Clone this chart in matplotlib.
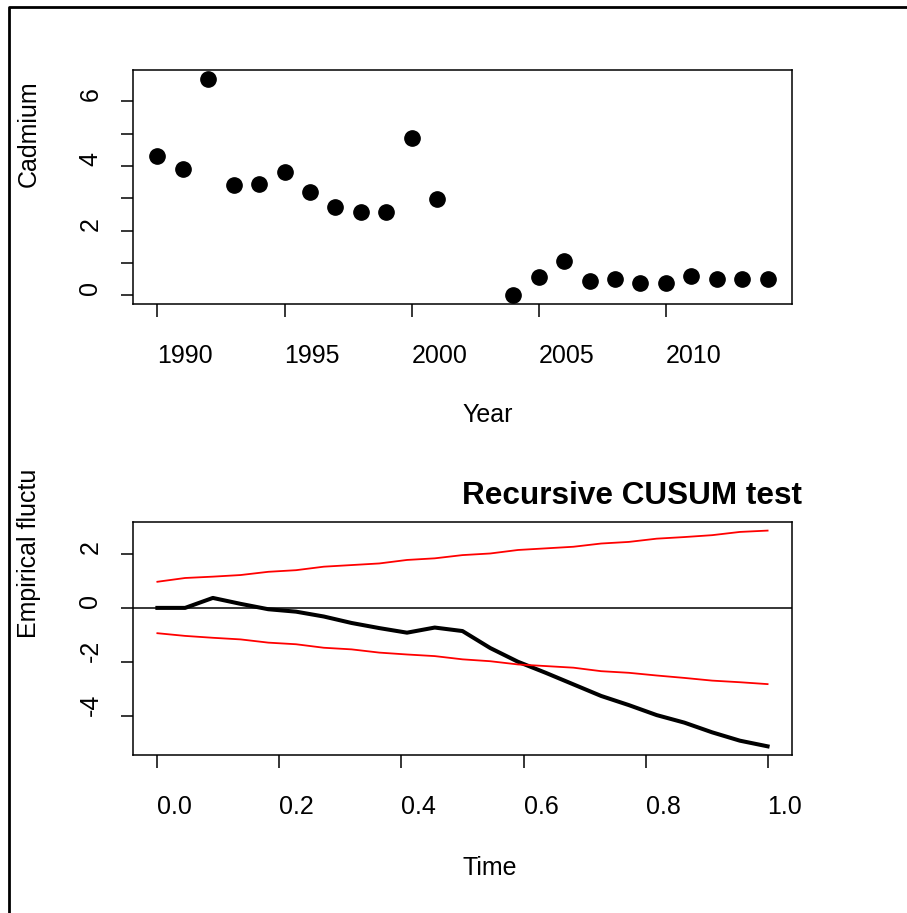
import numpy as np
import matplotlib
matplotlib.use("Agg")
import matplotlib.pyplot as plt
from matplotlib.lines import Line2D

plt.rcParams['font.family'] = ['Liberation Sans', 'DejaVu Sans']

# Cadmium series (2002 and 2003 missing)
years = [1990, 1991, 1992, 1993, 1994, 1995, 1996, 1997, 1998, 1999, 2000, 2001,
         2004, 2005, 2006, 2007, 2008, 2009, 2010, 2011, 2012, 2013, 2014]
cadmium = [4.31, 3.90, 6.70, 3.40, 3.44, 3.81, 3.19, 2.73, 2.57, 2.57, 4.87, 2.98,
           0.00, 0.56, 1.06, 0.44, 0.51, 0.38, 0.39, 0.60, 0.51, 0.51, 0.51]

# Recursive CUSUM process and its boundaries
process = [0.00, 0.00, 0.37, 0.15, -0.05, -0.14, -0.32, -0.56, -0.75, -0.92, -0.73, -0.86,
           -1.49, -2.00, -2.41, -2.84, -3.27, -3.61, -3.98, -4.26, -4.62, -4.93, -5.14]
upper = [0.97, 1.11, 1.16, 1.22, 1.34, 1.40, 1.53, 1.59, 1.65, 1.78, 1.84, 1.96,
         2.02, 2.15, 2.21, 2.27, 2.39, 2.45, 2.57, 2.63, 2.70, 2.82, 2.87]
lower = [-0.94, -1.04, -1.11, -1.17, -1.29, -1.35, -1.48, -1.54, -1.66, -1.73, -1.79, -1.91,
         -1.98, -2.10, -2.16, -2.22, -2.35, -2.41, -2.51, -2.60, -2.70, -2.76, -2.83]
process_time = np.arange(len(process)) / (len(process) - 1)

year_ticks = [1990, 1995, 2000, 2005, 2010]
cd_ticks = [0, 1, 2, 3, 4, 5, 6]
cd_labels = ['0', '', '2', '', '4', '', '6']
time_ticks = [0.0, 0.2, 0.4, 0.6, 0.8, 1.0]
time_labels = ['0.0', '0.2', '0.4', '0.6', '0.8', '1.0']
efp_ticks = [-4, -2, 0, 2]

FS = 18


def style_axes(ax):
    for sp in ax.spines.values():
        sp.set_linewidth(1.1)
    ax.tick_params(length=9, width=1.1, direction='out', labelsize=FS)
    ax.tick_params(axis='x', pad=20)
    ax.tick_params(axis='y', pad=13)
    for lbl in ax.get_xticklabels():
        lbl.set_ha('left')
    for lbl in ax.get_yticklabels():
        lbl.set_rotation(90)
        lbl.set_va('bottom')
        lbl.set_ha('right')


fig = plt.figure(figsize=(9.07, 9.13), dpi=100)

# top panel: cadmium scatter
ax1 = fig.add_axes([0.1466, 0.667, 0.7266, 0.2563])
ax1.plot(years, cadmium, 'o', color='black', markersize=11)
ax1.margins(x=0.04, y=0.04)
ax1.set_xticks(year_ticks)
ax1.set_xticklabels([str(y) for y in year_ticks])
ax1.set_yticks(cd_ticks)
ax1.set_yticklabels(cd_labels)
style_axes(ax1)
ax1.text(0.5, -0.474, 'Year', transform=ax1.transAxes, ha='left', va='center', fontsize=FS)
ax1.text(-0.158, 0.5, 'Cadmium', transform=ax1.transAxes, rotation=90,
         ha='center', va='bottom', fontsize=FS)

# bottom panel: recursive CUSUM
ax2 = fig.add_axes([0.1466, 0.1731, 0.7266, 0.2552])
ax2.plot(process_time, process, color='black', linewidth=2.9)
ax2.plot(process_time, upper, color='red', linewidth=1.3)
ax2.plot(process_time, lower, color='red', linewidth=1.3)
ax2.axhline(0, color='black', linewidth=1.1)
ax2.margins(x=0.04, y=0.04)
ax2.set_xticks(time_ticks)
ax2.set_xticklabels(time_labels)
ax2.set_yticks(efp_ticks)
ax2.set_yticklabels([str(v) for v in efp_ticks])
style_axes(ax2)
ax2.text(0.5, -0.485, 'Time', transform=ax2.transAxes, ha='left', va='center', fontsize=FS)
ax2.text(-0.158, 0.5, 'Empirical fluctu', transform=ax2.transAxes, rotation=90,
         ha='center', va='bottom', fontsize=FS)
ax2.text(0.5, 1.077, 'Recursive CUSUM test', transform=ax2.transAxes,
         ha='left', va='baseline', fontsize=22.7, fontweight='bold')

# outer frame (top and left edges only)
fig.add_artist(Line2D([9 / 907, 9 / 907, 1.0], [0.0, 1 - 7 / 913, 1 - 7 / 913],
                      transform=fig.transFigure, color='black', linewidth=2))

fig.savefig('out.png', dpi=100)
